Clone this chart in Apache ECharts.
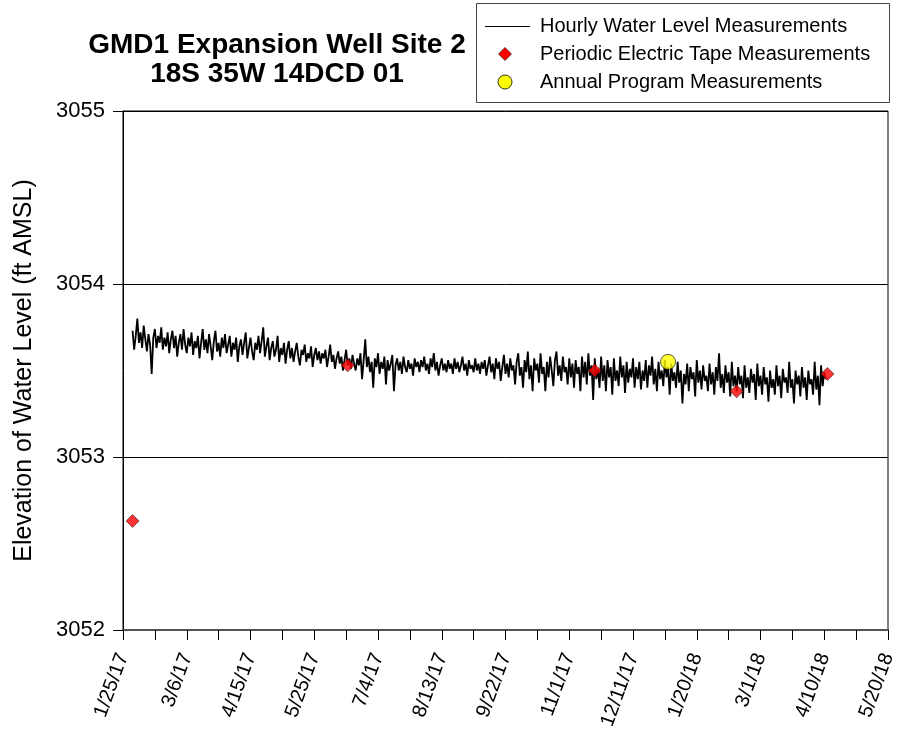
<!DOCTYPE html>
<html><head><meta charset="utf-8">
<script src="https://cdn.jsdelivr.net/npm/echarts@6/dist/echarts.min.js"></script>
<style>html,body{margin:0;padding:0;background:#fff}#c{width:907px;height:742px}</style>
</head><body><div id="c"></div>
<script>
// x values are days since 1/25/17
const xTickLabels = ['1/25/17','3/6/17','4/15/17','5/25/17','7/4/17','8/13/17','9/22/17','11/1/17','12/11/17','1/20/18','3/1/18','4/10/18','5/20/18'];
const legendNames = ['Hourly Water Level Measurements','Periodic Electric Tape Measurements','Annual Program Measurements'];
const hourlyStartDay = 6;
const hourlyStepDays = 1;
const hourlyLevels = [
3053.73,3053.62,3053.70,3053.80,3053.66,3053.72,3053.63,3053.76,3053.68,3053.61,3053.71,3053.65,3053.48,3053.69,3053.74,3053.63,3053.70,3053.66,3053.75,3053.62,
3053.69,3053.64,3053.72,3053.60,3053.68,3053.73,3053.63,3053.70,3053.58,3053.66,3053.71,3053.62,3053.74,3053.65,3053.60,3053.69,3053.64,3053.72,3053.59,3053.67,
3053.63,3053.70,3053.57,3053.66,3053.74,3053.62,3053.68,3053.60,3053.71,3053.64,3053.56,3053.67,3053.73,3053.61,3053.66,3053.58,3053.69,3053.63,3053.71,3053.60,
3053.65,3053.70,3053.58,3053.66,3053.62,3053.69,3053.55,3053.64,3053.68,3053.59,3053.66,3053.72,3053.57,3053.63,3053.69,3053.61,3053.56,3053.66,3053.62,3053.70,
3053.60,3053.67,3053.75,3053.58,3053.64,3053.69,3053.56,3053.63,3053.67,3053.58,3053.62,3053.70,3053.55,3053.63,3053.59,3053.66,3053.54,3053.62,3053.67,3053.57,
3053.63,3053.55,3053.61,3053.66,3053.58,3053.53,3053.62,3053.59,3053.65,3053.55,3053.60,3053.57,3053.64,3053.52,3053.59,3053.63,3053.56,3053.61,3053.54,3053.60,
3053.57,3053.62,3053.52,3053.58,3053.65,3053.55,3053.59,3053.51,3053.57,3053.61,3053.54,3053.58,3053.50,3053.56,3053.62,3053.53,3053.57,3053.51,3053.59,3053.54,
3053.50,3053.57,3053.53,3053.60,3053.45,3053.56,3053.68,3053.52,3053.58,3053.49,3053.55,3053.40,3053.57,3053.52,3053.60,3053.48,3053.55,3053.51,3053.58,3053.42,
3053.56,3053.50,3053.54,3053.59,3053.38,3053.53,3053.57,3053.50,3053.55,3053.48,3053.58,3053.52,3053.49,3053.56,3053.51,3053.54,3053.47,3053.57,3053.52,3053.55,
3053.49,3053.56,3053.52,3053.58,3053.50,3053.54,3053.48,3053.57,3053.52,3053.60,3053.50,3053.55,3053.47,3053.53,3053.57,3053.50,3053.54,3053.49,3053.56,3053.51,
3053.54,3053.48,3053.57,3053.51,3053.55,3053.49,3053.53,3053.58,3053.50,3053.54,3053.47,3053.56,3053.51,3053.53,3053.49,3053.57,3053.50,3053.54,3053.48,3053.55,
3053.51,3053.56,3053.47,3053.53,3053.58,3053.49,3053.54,3053.45,3053.57,3053.51,3053.55,3053.44,3053.52,3053.59,3053.48,3053.54,3053.46,3053.57,3053.50,3053.53,
3053.42,3053.55,3053.60,3053.47,3053.52,3053.40,3053.56,3053.49,3053.61,3053.45,3053.53,3053.38,3053.57,3053.50,3053.54,3053.43,3053.60,3053.48,3053.52,3053.38,
3053.55,3053.46,3053.58,3053.50,3053.41,3053.56,3053.61,3053.47,3053.53,3053.44,3053.58,3053.49,3053.52,3053.42,3053.57,3053.46,3053.54,3053.40,3053.56,3053.48,
3053.52,3053.38,3053.58,3053.46,3053.55,3053.42,3053.60,3053.47,3053.53,3053.33,3053.57,3053.45,3053.51,3053.40,3053.58,3053.44,3053.53,3053.38,3053.56,3053.46,
3053.52,3053.36,3053.57,3053.44,3053.50,3053.41,3053.58,3053.46,3053.53,3053.37,3053.55,3053.43,3053.51,3053.46,3053.57,3053.40,3053.52,3053.45,3053.55,3053.39,
3053.50,3053.44,3053.56,3053.40,3053.53,3053.47,3053.58,3053.42,3053.51,3053.38,3053.55,3053.45,3053.50,3053.41,3053.56,3053.46,3053.52,3053.36,3053.54,3053.44,
3053.49,3053.40,3053.55,3053.43,3053.50,3053.31,3053.48,3053.42,3053.54,3053.38,3053.52,3053.45,3053.49,3053.35,3053.56,3053.43,3053.50,3053.39,3053.53,3053.44,
3053.47,3053.38,3053.54,3053.42,3053.49,3053.36,3053.52,3053.44,3053.60,3053.40,3053.48,3053.37,3053.53,3053.43,3053.49,3053.35,3053.55,3053.41,3053.47,3053.38,
3053.52,3053.42,3053.47,3053.34,3053.53,3053.40,3053.46,3053.37,3053.51,3053.43,3053.48,3053.33,3053.54,3053.41,3053.47,3053.36,3053.52,3053.42,3053.46,3053.32,
3053.50,3053.40,3053.45,3053.36,3053.53,3053.41,3053.47,3053.34,3053.51,3053.43,3053.46,3053.37,3053.55,3053.40,3053.45,3053.31,3053.50,3053.42,3053.47,3053.35,
3053.52,3053.40,3053.46,3053.33,3053.50,3053.42,3053.45,3053.36,3053.55,3053.39,3053.47,3053.30,3053.53,3053.41,3053.49,3053.45
];
const tapeDays = [6, 141, 296, 385, 442];
const tapeLevels = [3052.63, 3053.53, 3053.50, 3053.38, 3053.48];
const annualDays = [342];
const annualLevels = [3053.55];

const hourlyData = hourlyLevels.map((v, i) => [hourlyStartDay + i * hourlyStepDays, v]);
const tapeData = tapeDays.map((d, i) => [d, tapeLevels[i]]);
const annualData = annualDays.map((d, i) => [d, annualLevels[i]]);

const FONT = 'Liberation Sans, Arial, sans-serif';
const chart = echarts.init(document.getElementById('c'), null, {renderer: 'canvas'});
const legendText = (txt, y) => ({type: 'text', x: 540, y: y,
  style: {text: txt, font: '20px ' + FONT, fill: '#000', verticalAlign: 'middle', align: 'left'}});
chart.setOption({
  animation: false,
  backgroundColor: '#fff',
  title: {
    text: 'GMD1 Expansion Well Site 2\n18S 35W 14DCD 01',
    left: 272, top: 26, textAlign: 'center',
    textStyle: {fontFamily: FONT, fontSize: 28, fontWeight: 'bold', color: '#000', lineHeight: 29}
  },
  graphic: [
    {type: 'rect', shape: {x: 476.5, y: 3.5, width: 413, height: 99}, style: {fill: '#fff', stroke: '#444', lineWidth: 1}},
    {type: 'line', shape: {x1: 485, y1: 26.5, x2: 530, y2: 26.5}, style: {stroke: '#000', lineWidth: 1.2}},
    {type: 'polygon', shape: {points: [[505, 47.5], [511.5, 54], [505, 60.5], [498.5, 54]]}, style: {fill: '#ff0000', stroke: '#000', lineWidth: 0.6}},
    {type: 'circle', shape: {cx: 505, cy: 82, r: 7}, style: {fill: '#ffff00', stroke: '#000', lineWidth: 0.8}},
    legendText(legendNames[0], 26),
    legendText(legendNames[1], 54),
    legendText(legendNames[2], 82)
  ],
  grid: {left: 123, right: 19, top: 111, bottom: 112, show: true, borderColor: '#000', borderWidth: 1,
         containLabel: false, outerBoundsMode: 'none'},
  xAxis: {
    type: 'value', min: 0, max: 480, interval: 40,
    axisLine: {show: true, lineStyle: {color: '#555', width: 2}},
    axisTick: {show: true, length: 10, lineStyle: {color: '#000'}},
    minorTick: {show: true, splitNumber: 2, length: 10, lineStyle: {color: '#000'}},
    splitLine: {show: false},
    axisLabel: {
      rotate: 70, margin: 24, fontFamily: FONT, fontSize: 20, color: '#000',
      formatter: v => xTickLabels[Math.round(v / 40)] || ''
    }
  },
  yAxis: {
    type: 'value', min: 3052, max: 3055, interval: 1,
    name: 'Elevation of Water Level (ft AMSL)', nameLocation: 'middle', nameGap: 86,
    nameTextStyle: {fontFamily: FONT, fontSize: 25, color: '#000'},
    axisLine: {show: true, lineStyle: {color: '#000', width: 1}},
    axisTick: {show: true, length: 10, lineStyle: {color: '#000'}},
    splitLine: {show: true, lineStyle: {color: '#000', width: 1}},
    axisLabel: {fontFamily: FONT, fontSize: 22, color: '#000', margin: 18, formatter: v => String(v)}
  },
  series: [
    {name: legendNames[0], type: 'line', data: hourlyData, showSymbol: false, symbol: 'none',
     lineStyle: {color: '#000', width: 1.8}, z: 2},
    {name: legendNames[1], type: 'scatter', data: tapeData, symbol: 'diamond', symbolSize: 13,
     itemStyle: {color: '#ff0000', borderColor: '#000', borderWidth: 0.6}, z: 3},
    {name: legendNames[2], type: 'scatter', data: annualData, symbol: 'circle', symbolSize: 15,
     itemStyle: {color: '#ffff00', borderColor: '#000', borderWidth: 0.8}, z: 3}
  ]
});
</script></body></html>
